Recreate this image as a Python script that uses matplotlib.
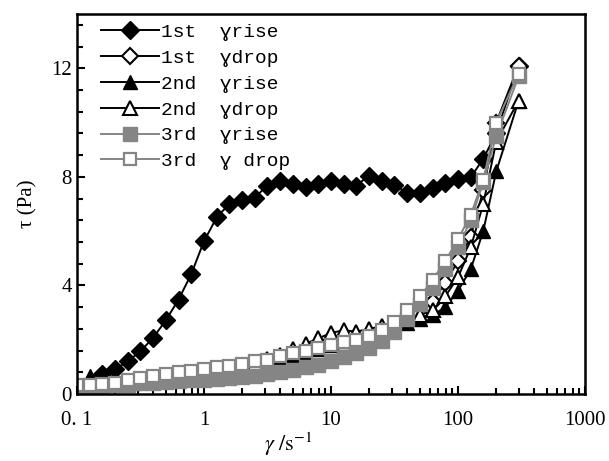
import numpy as np
import matplotlib
matplotlib.use("Agg")
import matplotlib.pyplot as plt
from matplotlib.ticker import FixedLocator, FixedFormatter, MultipleLocator, LogLocator, NullFormatter

plt.rcParams['font.family'] = ['Liberation Serif', 'DejaVu Serif']
plt.rcParams['mathtext.fontset'] = 'stix'

# shear rate grid (1/s)
shear = [0.1, 0.126, 0.158, 0.2, 0.251, 0.316, 0.398, 0.501, 0.631, 0.794,
         1, 1.26, 1.58, 2, 2.51, 3.16, 3.98, 5.01, 6.31, 7.94,
         10, 12.6, 15.8, 20, 25.1, 31.6, 39.8, 50.1, 63.1, 79.4,
         100, 126, 158, 200, 300]

# shear stress (Pa)
rise1 = [None, None, 0.75, 0.91, 1.20, 1.58, 2.07, 2.72, 3.48, 4.42,
         5.63, 6.51, 7.00, 7.14, 7.24, 7.68, 7.86, 7.75, 7.62, 7.75,
         7.86, 7.75, 7.68, 8.05, 7.83, 7.71, 7.40, 7.40, 7.58, 7.77,
         7.93, 7.98, 8.67, 9.6, 12.1]
drop1 = [0.30, 0.32, 0.35, 0.38, 0.42, 0.45, 0.50, 0.55, 0.58, 0.62,
         0.65, 0.70, 0.75, 0.80, 0.85, 0.90, 1.00, 1.10, 1.20, 1.35,
         1.50, 1.70, 1.90, 2.10, 2.30, 2.50, 2.75, 2.95, 3.40, 4.10,
         4.90, 5.80, 7.50, 10.0, 12.1]
rise2 = [0.30, 0.66, 0.45, 0.48, 0.52, 0.56, 0.60, 0.65, 0.70, 0.78,
         0.85, 0.90, 0.95, 1.00, 1.05, 1.10, 1.20, 1.35, 1.50, 1.65,
         1.80, 1.95, 2.05, 2.20, 2.35, 2.45, 2.60, 2.75, 2.90, 3.20,
         3.80, 4.60, 6.00, 8.20, 10.8]
drop2 = [0.30, 0.32, 0.36, 0.40, 0.45, 0.50, 0.55, 0.60, 0.65, 0.72,
         0.80, 0.85, 0.95, 1.05, 1.15, 1.30, 1.45, 1.65, 1.85, 2.05,
         2.25, 2.35, 2.30, 2.40, 2.50, 2.60, 2.75, 2.90, 3.10, 3.60,
         4.30, 5.40, 7.00, 9.30, 10.8]
rise3 = [0.30, 0.30, 0.30, 0.32, 0.35, 0.40, 0.42, 0.45, 0.48, 0.50,
         0.52, 0.55, 0.60, 0.62, 0.68, 0.75, 0.82, 0.90, 0.98, 1.08,
         1.20, 1.35, 1.50, 1.70, 1.95, 2.30, 2.75, 3.30, 3.90, 4.60,
         5.40, 6.40, 7.80, 9.50, 11.7]
drop3 = [0.35, 0.35, 0.38, 0.42, 0.50, 0.60, 0.68, 0.75, 0.80, 0.85,
         0.92, 0.98, 1.05, 1.12, 1.20, 1.25, 1.40, 1.50, 1.60, 1.70,
         1.80, 1.90, 2.00, 2.15, 2.35, 2.65, 3.10, 3.60, 4.20, 4.90,
         5.70, 6.60, 7.90, 10.0, 11.8]

labels = ['1st  \u0263rise', '1st  \u0263drop', '2nd  \u0263rise',
          '2nd  \u0263drop', '3rd  \u0263rise', '3rd  \u0263 drop']
xticks = [0.1, 1, 10, 100, 1000]
xticklabels = ['0. 1', '1', '10', '100', '1000']
yticks = [0, 4, 8, 12]

grey = '#858585'

fig = plt.figure(figsize=(6.09, 4.61), dpi=100)
ax = fig.add_axes([0.1264, 0.1453, 0.8342, 0.8243])


def clean(xs, ys):
    pts = [(a, b) for a, b in zip(xs, ys) if b is not None]
    return [p[0] for p in pts], [p[1] for p in pts]


x, y = clean(shear, rise1)
ax.plot(x, y, color='black', lw=1.4, marker='D', ms=9, mfc='black', mec='black', label=labels[0])
ax.plot(shear, drop1, color='black', lw=1.4, marker='D', ms=8, mfc='white', mec='black', mew=1.5, label=labels[1])
ax.plot(shear, rise2, color='black', lw=1.4, marker='^', ms=10, mfc='black', mec='black', label=labels[2])
ax.plot(shear, drop2, color='black', lw=1.4, marker='^', ms=10, mfc='white', mec='black', mew=1.5, label=labels[3])
ax.plot(shear, rise3, color=grey, lw=1.4, marker='s', ms=10, mfc=grey, mec=grey, label=labels[4])
ax.plot(shear, drop3, color=grey, lw=1.4, marker='s', ms=9, mfc='white', mec=grey, mew=1.6, label=labels[5])

ax.set_xscale('log')
ax.set_xlim(0.1, 1000)
ax.set_ylim(0, 14)
ax.xaxis.set_major_locator(FixedLocator(xticks))
ax.xaxis.set_major_formatter(FixedFormatter(xticklabels))
ax.xaxis.set_minor_locator(LogLocator(base=10, subs=np.arange(2, 10)))
ax.xaxis.set_minor_formatter(NullFormatter())
ax.yaxis.set_major_locator(FixedLocator(yticks))
ax.yaxis.set_minor_locator(MultipleLocator(0.8))

ax.tick_params(which='both', direction='in', top=False, right=False, labelsize=15, width=1.5)
ax.tick_params(which='major', length=6)
ax.tick_params(which='minor', length=4)
ax.tick_params(axis='x', pad=12)
for s in ax.spines.values():
    s.set_linewidth(1.8)

ax.set_xlabel(r'$\gamma\ /\mathrm{s}^{-1}$', fontsize=16)
ax.xaxis.set_label_coords(0.415, -0.095)
ax.set_ylabel('\u03c4 (Pa)', fontsize=15, labelpad=10)

ax.legend(loc='upper left', frameon=False,
          prop={'family': ['Liberation Mono', 'DejaVu Sans Mono'], 'size': 14},
          handlelength=3.0, handletextpad=0.1, labelspacing=0.42, borderaxespad=0,
          bbox_to_anchor=(0.032, 0.995))

fig.savefig('out.png', dpi=100)
